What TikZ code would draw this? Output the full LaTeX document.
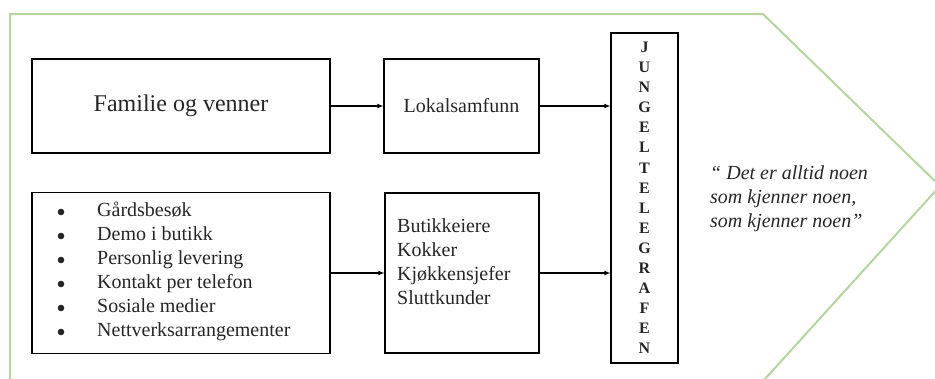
\documentclass[tikz,border=0pt]{standalone}
\usepackage{fontspec}
\setmainfont{Liberation Serif}
\usepackage{xcolor}
\definecolor{gronn}{RGB}{180,214,158}
\definecolor{tekst}{RGB}{38,38,38}

\begin{document}
\begin{tikzpicture}[x=1pt, y=-1pt]
        \tikzstyle{boks}=[draw=black, line width=1.1pt, rectangle, inner sep=0pt, text=tekst]
        \tikzstyle{pil}=[->, >=latex, line width=1.1pt]
        \tikzstyle{liste}=[anchor=west, align=left, inner sep=0pt, text=tekst,
                           font=\fontsize{20}{24}\selectfont]

        \useasboundingbox[fill=white] (0,0) rectangle (935,378);

        % den groenne pilen
        \draw[gronn, line width=2pt] (10,390) -- (10,14) -- (763,14) -- (940,186) -- (755,390);

        \coordinate (F) at (181,106);
        \coordinate (L) at (461.5,106);
        \coordinate (K) at (181,273);
        \coordinate (B) at (462,273);
        \coordinate (J) at (644.5,198);

        \node (familie) at (F)[boks, minimum width=298, minimum height=94,
          font=\fontsize{24}{28}\selectfont]{Familie og venner};
        \node (lokal) at (L)[boks, minimum width=155, minimum height=94,
          font=\fontsize{20}{24}\selectfont]{Lokalsamfunn};

        \node (kanaler) at (K)[boks, minimum width=298, minimum height=161]{};
        \node (kanalliste) at (97,271.5)[liste]
          {Gårdsbesøk\\ Demo i butikk\\ Personlig levering\\
           Kontakt per telefon\\ Sosiale medier\\ Nettverksarrangementer};
        \foreach \i in {0,...,5}
          \fill[tekst] (61,212+24*\i) circle (3.3);

        \node (kunder) at (B)[boks, minimum width=154, minimum height=160]{};
        \node (kundeliste) at (397,262)[liste]
          {Butikkeiere\\ Kokker\\ Kjøkkensjefer\\ Sluttkunder};

        \node (jungel) at (J)[boks, minimum width=67, minimum height=330, align=center,
          font=\fontsize{16}{20.1}\selectfont\bfseries]
          {J\\U\\N\\G\\E\\L\\T\\E\\L\\E\\G\\R\\A\\F\\E\\N};

        \node (sitat) at (710,199)[liste, font=\fontsize{20}{24}\selectfont\itshape]
          {`` Det er alltid noen\\ som kjenner noen,\\ som kjenner noen''};

        \draw[pil] (familie.east) -- (lokal.west);
        \draw[pil] (lokal.east) -- (lokal.east -| jungel.west);
        \draw[pil] (kanaler.east) -- (kunder.west);
        \draw[pil] (kunder.east) -- (kunder.east -| jungel.west);
      \end{tikzpicture}
\end{document}
